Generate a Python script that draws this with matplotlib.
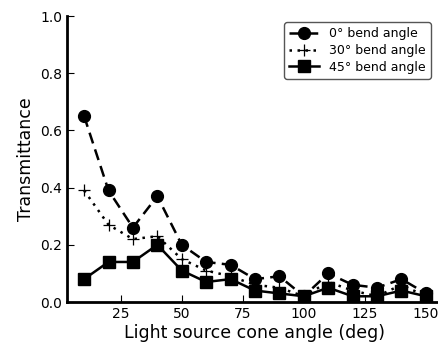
import matplotlib
matplotlib.use("Agg")
import matplotlib.pyplot as plt

cone_angle = [10, 20, 30, 40, 50, 60, 70, 80, 90, 100, 110, 120, 130, 140, 150]
bend_0 = [0.65, 0.39, 0.26, 0.37, 0.20, 0.14, 0.13, 0.08, 0.09, 0.02, 0.10, 0.06, 0.05, 0.08, 0.03]
bend_30 = [0.39, 0.27, 0.22, 0.23, 0.15, 0.11, 0.09, 0.06, 0.05, 0.02, 0.07, 0.04, 0.02, 0.06, 0.02]
bend_45 = [0.08, 0.14, 0.14, 0.20, 0.11, 0.07, 0.08, 0.04, 0.03, 0.02, 0.05, 0.02, 0.02, 0.04, 0.02]
labels = ["0° bend angle", "30° bend angle", "45° bend angle"]

fig = plt.figure(figsize=(4.38, 3.48), dpi=100)
ax = fig.add_axes([67 / 438, 46 / 348, 376 / 438, 286 / 348])

ax.plot(cone_angle, bend_0, color="black", linestyle=(0, (4.5, 2.5)), linewidth=1.8,
        marker="o", markersize=8.5, label=labels[0])
ax.plot(cone_angle, bend_30, color="black", linestyle=(0, (1, 2.2)), linewidth=1.8,
        marker="+", markersize=9, markeredgewidth=0.9, label=labels[1])
ax.plot(cone_angle, bend_45, color="black", linestyle="-", linewidth=1.8,
        marker="s", markersize=8.5, label=labels[2])

ax.set_xlim(3, 157)
ax.set_ylim(0, 1.0)
ax.set_xticks([25, 50, 75, 100, 125, 150])
ax.set_yticks([0.0, 0.2, 0.4, 0.6, 0.8, 1.0])
ax.set_yticklabels(["0.0", "0.2", "0.4", "0.6", "0.8", "1.0"])

for side in ("top", "right"):
    ax.spines[side].set_visible(False)
for side in ("left", "bottom"):
    ax.spines[side].set_linewidth(2.0)
ax.tick_params(direction="in", length=5, width=0.8, labelsize=10,
               top=False, right=False)

ax.set_xlabel("Light source cone angle (deg)", fontsize=12.5, labelpad=2)
ax.set_ylabel("Transmittance", fontsize=12.5, labelpad=4)

leg = ax.legend(loc="upper right", bbox_to_anchor=(370 / 376, 1.0), fontsize=9,
                frameon=True, fancybox=True, handlelength=2.4, borderpad=0.4,
                labelspacing=0.3, handletextpad=0.8, framealpha=1)
leg.get_frame().set_edgecolor("#555555")

fig.savefig("out.png", dpi=100)
